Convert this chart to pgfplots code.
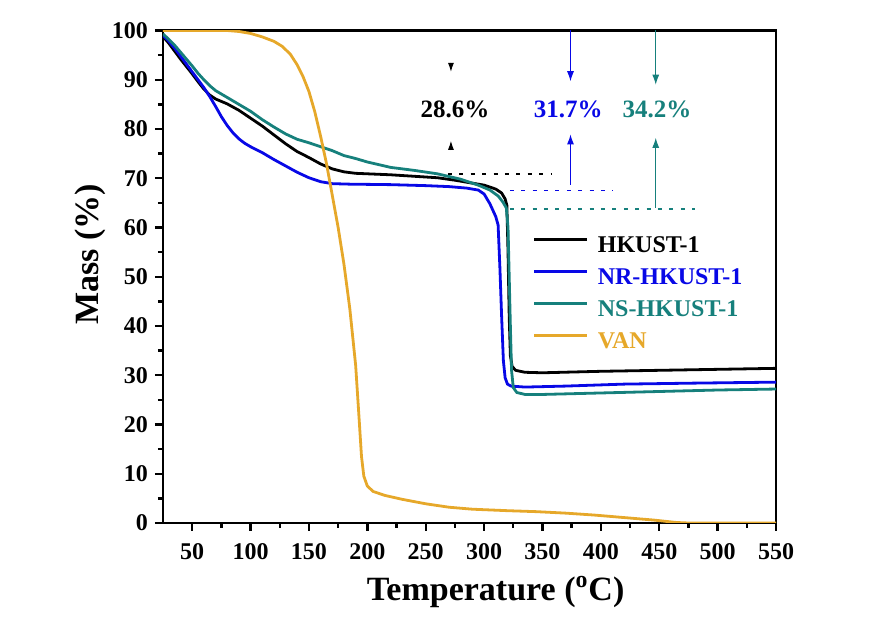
\documentclass[border=0pt]{standalone}
\usepackage{fontspec}
\setmainfont{Liberation Serif}
\usepackage{pgfplots}
\pgfplotsset{compat=1.18}
\usetikzlibrary{arrows.meta}

\definecolor{nrblue}{RGB}{8,8,230}
\definecolor{nsteal}{RGB}{22,128,124}
\definecolor{vangold}{RGB}{230,168,42}

\begin{document}
\begin{tikzpicture}
% page frame: white margin around the plot area
\path[use as bounding box] (-81.5pt,-53.5pt) rectangle (360pt,261.5pt);
\begin{axis}[
  at={(0,0)}, anchor=south west,
  scale only axis, width=306.5pt, height=246.25pt,
  xmin=25, xmax=550, ymin=0, ymax=100,
  xtick={50,100,...,550}, ytick={0,10,...,100},
  minor x tick num=1, minor y tick num=1,
  tick pos=left, tick align=outside,
  major tick length=4pt, minor tick length=2.5pt,
  every tick/.style={black, line width=1.2pt},
  axis line style={line width=1.4pt},
  tick label style={font=\fontsize{12}{14}\selectfont\bfseries},
  xticklabel style={yshift=-2.5pt},
  /pgf/number format/assume math mode=true,
  xlabel={Temperature (\textsuperscript{o}C)},
  ylabel={Mass (\%)},
  label style={font=\fontsize{17}{20}\selectfont\bfseries},
  xlabel style={at={(axis description cs:0.5426,-0.1403)}, anchor=center},
  ylabel style={at={(axis description cs:-0.119,0.545)}, anchor=center},
  every axis plot/.append style={line width=1.4pt, no marks},
  legend style={at={(axis cs:341.9,46.4)}, anchor=west, draw=none, fill=none,
    inner sep=0pt, outer sep=0pt, row sep=0pt,
    font=\fontsize{12}{15}\selectfont\bfseries,
    nodes={inner sep=0pt, text height=11pt, text depth=5pt}},
  legend cell align=left,
  legend image code/.code={\draw[#1, line width=1.4pt] (0pt,3.5pt) -- (26.5pt,3.5pt);},
  /tikz/every odd column/.append style={column sep=4.5pt},
]

% HKUST-1
\addplot[black] coordinates {
(25,98.8) (30,97.4) (35,95.8) (40,94.2) (45,92.7) (50,91.2) (55,89.6) (60,88.1)
(65,86.9) (70,86.1) (75,85.6) (80,85.1) (90,83.8) (100,82.2) (110,80.6)
(120,78.8) (130,77.0) (140,75.4) (150,74.2) (160,72.9) (170,71.9) (180,71.3)
(190,71.0) (200,70.9) (220,70.7) (240,70.4) (260,70.1) (275,69.6) (290,69.0)
(300,68.6) (310,67.8) (315,67.0) (318,65.8) (319.5,64.5) (320.5,55) (321.5,42)
(322.5,34) (324,31.8) (327,31.0) (335,30.6) (350,30.5) (400,30.8) (450,31.0)
(500,31.2) (550,31.4)};
\addlegendentry{HKUST-1}

% NR-HKUST-1
\addplot[nrblue] coordinates {
(25,99.0) (30,97.8) (35,96.4) (40,94.8) (45,93.2) (50,91.6) (55,90.0) (60,88.4)
(65,86.6) (70,84.6) (75,82.5) (80,80.7) (85,79.2) (90,78.0) (95,77.1)
(100,76.4) (110,75.2) (120,73.8) (130,72.5) (140,71.2) (150,70.1) (160,69.3)
(170,68.9) (185,68.8) (220,68.7) (250,68.5) (270,68.3) (285,68.0) (295,67.6)
(300,66.8) (305,64.8) (310,62.2) (312,60.5) (313.5,52) (315,42) (316.5,33)
(318,29.5) (320,28.2) (323,27.8) (335,27.6) (370,27.8) (420,28.2) (480,28.4)
(550,28.6)};
\addlegendentry{\textcolor{nrblue}{NR-HKUST-1}}

% NS-HKUST-1
\addplot[nsteal] coordinates {
(25,99.3) (30,98.2) (35,97.0) (40,95.6) (45,94.2) (50,92.8) (55,91.3) (60,90.0)
(65,88.8) (70,87.8) (80,86.4) (90,85.0) (100,83.6) (110,81.9) (120,80.4)
(130,79.0) (140,77.9) (150,77.2) (160,76.4) (170,75.6) (180,74.6) (190,74.0)
(200,73.3) (220,72.2) (240,71.6) (260,70.9) (280,69.8) (295,68.6) (305,67.6)
(312,66.4) (316,65.2) (319,64.0) (320.5,60) (321.5,50) (322.5,40) (323.5,31)
(325,27.5) (328,26.5) (335,26.1) (350,26.1) (400,26.4) (450,26.7) (500,27.0)
(550,27.2)};
\addlegendentry{\textcolor{nsteal}{NS-HKUST-1}}

% VAN
\addplot[vangold] coordinates {
(25,100) (80,100) (90,99.8) (100,99.4) (110,98.7) (120,97.8) (127,96.8)
(134,95.2) (140,93.0) (145,90.6) (150,87.6) (155,83.5) (160,78.5) (165,73)
(170,66.5) (175,60) (180,52.5) (185,43.5) (190,32) (193,21) (195,13.5)
(197,9.5) (200,7.5) (205,6.4) (215,5.6) (230,4.8) (250,3.9) (270,3.2)
(290,2.8) (320,2.5) (345,2.3) (370,2.0) (395,1.6) (420,1.1) (445,0.6)
(465,0.1) (475,0) (550,0)};
\addlegendentry{\textcolor{vangold}{VAN}}

% residual-mass reference levels
\draw[black, line width=0.8pt, dash pattern=on 2pt off 3.7pt]
  (axis cs:269,70.9) -- (axis cs:357,70.9);
\draw[nrblue, line width=0.8pt, dash pattern=on 2pt off 3.7pt]
  (axis cs:322,67.5) -- (axis cs:410,67.5);
\draw[nsteal, line width=0.8pt, dash pattern=on 2pt off 3.7pt]
  (axis cs:322,63.7) -- (axis cs:481,63.7);

% mass-loss arrows
\draw[black, line width=0.5pt, -{Latex[length=4.5pt,width=3pt]}]
  (axis cs:271.6,93.5) -- (axis cs:271.6,91.6);
\draw[black, line width=0.5pt, -{Latex[length=4.5pt,width=3pt]}]
  (axis cs:271.6,75.7) -- (axis cs:271.6,77.6);
\draw[nrblue, line width=0.5pt, -{Latex[length=5pt,width=3.5pt]}]
  (axis cs:374,100) -- (axis cs:374,89.7);
\draw[nrblue, line width=0.5pt, -{Latex[length=5pt,width=3.5pt]}]
  (axis cs:374,68.7) -- (axis cs:374,78.9);
\draw[nsteal, line width=0.5pt, -{Latex[length=5pt,width=3.5pt]}]
  (axis cs:447,100) -- (axis cs:447,89);
\draw[nsteal, line width=0.5pt, -{Latex[length=5pt,width=3.5pt]}]
  (axis cs:447,64) -- (axis cs:447,78.2);

\node[font=\fontsize{12.5}{15}\selectfont\bfseries, black] at (axis cs:275,84) {28.6\%};
\node[font=\fontsize{12.5}{15}\selectfont\bfseries, nrblue] at (axis cs:372,84) {31.7\%};
\node[font=\fontsize{12.5}{15}\selectfont\bfseries, nsteal] at (axis cs:448,84) {34.2\%};

\end{axis}
\end{tikzpicture}
\end{document}
